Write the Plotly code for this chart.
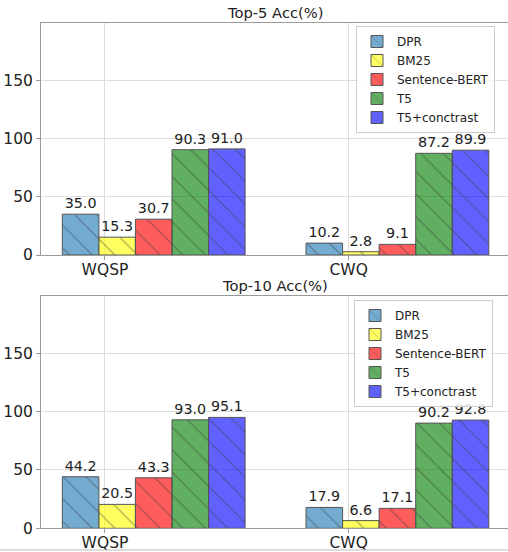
import plotly.graph_objects as go

# ---- data ----
categories = ["WQSP", "CWQ"]
methods = ["DPR", "BM25", "Sentence-BERT", "T5", "T5+conctrast"]

top5_dpr = [35.0, 10.2]
top5_bm25 = [15.3, 2.8]
top5_sbert = [30.7, 9.1]
top5_t5 = [90.3, 87.2]
top5_t5c = [91.0, 89.9]

top10_dpr = [44.2, 17.9]
top10_bm25 = [20.5, 6.6]
top10_sbert = [43.3, 17.1]
top10_t5 = [93.0, 90.2]
top10_t5c = [95.1, 92.8]

y_ticks = [0, 50, 100, 150]
panel_titles = ["Top-5 Acc(%)", "Top-10 Acc(%)"]

# ---- style ----
colors = [
    "rgba(31,119,180,0.62)",
    "rgba(255,255,0,0.62)",
    "rgba(255,0,0,0.64)",
    "rgba(0,128,0,0.62)",
    "rgba(0,0,255,0.62)",
]
bar_width = 0.15
group_shift = -0.1
W, H = 508, 552
L = 41
PW = W - L
FONT = "DejaVu Sans"


def px_x(px):
    return (px - L) / PW


def px_y(py):
    return 1 - py / H


fig = go.Figure()

panels = [
    ([top5_dpr, top5_bm25, top5_sbert, top5_t5, top5_t5c], "x", "y", "legend", "a"),
    ([top10_dpr, top10_bm25, top10_sbert, top10_t5, top10_t5c], "x2", "y2", "legend2", "b"),
]

for series, xa, ya, lg, grp in panels:
    for i, (name, vals) in enumerate(zip(methods, series)):
        xs = [k + group_shift + i * bar_width for k in range(len(categories))]
        fig.add_trace(go.Bar(
            x=xs, y=vals, width=bar_width, name=name,
            legendgroup=f"{grp}{i}",
            marker=dict(
                color=colors[i],
                line=dict(color="#555555", width=1),
                pattern=dict(shape="\\", fgcolor="#3a3a3a", size=16, solidity=0.07),
            ),
            texttemplate="%{y:.1f}", textposition="outside",
            textfont=dict(size=14.3, color="#222222", family=FONT),
            constraintext="none", cliponaxis=False,
            xaxis=xa, yaxis=ya, legend=lg,
        ))

x_range = [-0.2625, 1.6538]
y_range = [0, 199.2]


def xaxis_cfg(anchor):
    return dict(
        anchor=anchor, domain=[0, 1], range=x_range, automargin=False,
        tickvals=list(range(len(categories))), ticktext=categories,
        showgrid=True, gridcolor="#dddddd", gridwidth=1,
        showline=True, linecolor="#9a9a9a", linewidth=1, mirror=True,
        ticks="outside", ticklen=4, tickcolor="#9a9a9a",
        ticklabelstandoff=-4,
        tickfont=dict(size=15.5, color="#222222", family=FONT),
        zeroline=False,
    )


def yaxis_cfg(anchor, dom):
    return dict(
        anchor=anchor, domain=dom, range=y_range, tickvals=y_ticks, automargin=False,
        showgrid=True, gridcolor="#dddddd", gridwidth=1,
        showline=True, linecolor="#9a9a9a", linewidth=1, mirror=False,
        ticks="outside", ticklen=4, tickcolor="#9a9a9a",
        tickfont=dict(size=15.5, color="#222222", family=FONT),
        zeroline=False,
    )


def legend_cfg(xl, yt):
    return dict(
        x=px_x(xl), xanchor="left", y=px_y(yt), yanchor="top",
        bordercolor="#cccccc", borderwidth=1, bgcolor="rgba(255,255,255,0.85)",
        font=dict(size=12, color="#222222", family=FONT),
        tracegroupgap=0,
    )


fig.update_layout(
    width=W, height=H,
    margin=dict(l=L, r=0, t=0, b=0, autoexpand=False),
    paper_bgcolor="white", plot_bgcolor="white",
    font=dict(family=FONT, color="#222222"),
    barmode="overlay",
    hovermode=False,
    xaxis=xaxis_cfg("y"),
    yaxis=yaxis_cfg("x", [px_y(255), px_y(22.7)]),
    xaxis2=xaxis_cfg("y2"),
    yaxis2=yaxis_cfg("x2", [px_y(528.3), px_y(296)]),
    legend=legend_cfg(356, 26),
    legend2=legend_cfg(354, 300),
    annotations=[
        dict(text=panel_titles[0], x=px_x(275.3), y=px_y(13), xref="paper", yref="paper",
             xanchor="center", yanchor="middle", showarrow=False,
             font=dict(size=14.7, color="#222222", family=FONT)),
        dict(text=panel_titles[1], x=px_x(275.3), y=px_y(285), xref="paper", yref="paper",
             xanchor="center", yanchor="middle", showarrow=False,
             font=dict(size=14.7, color="#222222", family=FONT)),
    ],
    shapes=[
        dict(type="line", xref="paper", yref="paper", x0=px_x(0), x1=1, y0=px_y(550), y1=px_y(550),
             line=dict(color="#bbbbbb", width=1)),
    ],
)

fig.write_html(
    "out.html",
    config={"displayModeBar": False},
    post_script="document.body.style.margin='0';",
)
